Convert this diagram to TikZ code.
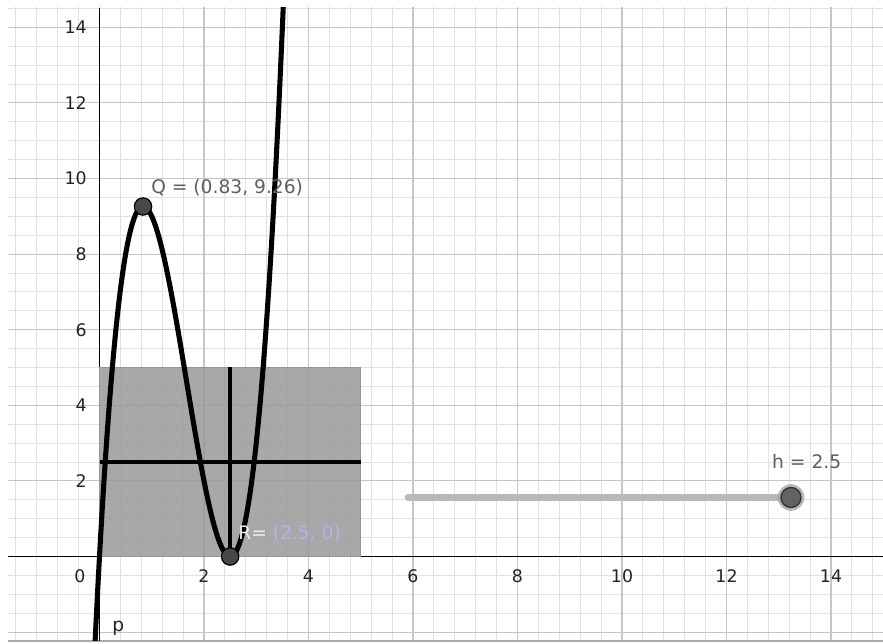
\documentclass[tikz,border=0pt]{standalone}
\usepackage{fontspec}
\setmainfont{DejaVu Sans}
\definecolor{minorc}{RGB}{226,226,226}
\definecolor{majorc}{RGB}{198,198,198}
\definecolor{rectc}{RGB}{150,150,150}
\definecolor{rectedge}{RGB}{150,150,150}
\definecolor{ptfill}{RGB}{72,72,72}
\definecolor{slidec}{RGB}{185,185,185}
\definecolor{haloc}{RGB}{165,165,165}
\definecolor{labelc}{RGB}{95,95,95}
\definecolor{numc}{RGB}{35,35,35}
\definecolor{rlabc}{RGB}{180,180,232}
\definecolor{rrc}{RGB}{238,238,238}
\definecolor{framec}{RGB}{170,170,170}
\begin{document}
\begin{tikzpicture}[x=39.1875pt,y=28.35pt,
  minorgrid/.style={draw=minorc, line width=0.7pt},
  majorgrid/.style={draw=majorc, line width=0.8pt},
  axisline/.style={draw=black, line width=0.9pt},
  numlab/.style={text=numc, font=\fontsize{13}{15}\selectfont, inner sep=0pt},
  ptlab/.style={text=labelc, font=\fontsize{14}{16}\selectfont, inner sep=0pt},
  curvestyle/.style={draw=black, line width=3.8pt, line join=round},
  segstyle/.style={draw=black, line width=3pt},
  ptstyle/.style={circle, fill=ptfill, draw=black, line width=0.9pt, minimum size=13pt, inner sep=0pt},
  knobstyle/.style={circle, fill=ptfill!85!white, draw=black!80, line width=1pt, minimum size=15pt, inner sep=0pt},
  sliderline/.style={draw=slidec, line width=5pt, line cap=round},
  halostyle/.style={fill=haloc, fill opacity=0.8}
]
\useasboundingbox[fill=white] (-1.9043,-2.3148) rectangle (14.9952,14.7222);
% grid
\begin{scope}
  \clip (-1.751,-2.235) rectangle (14.9952,14.511);
  \draw[minorgrid, xstep=0.4, ystep=0.5] (-2,-2.5) grid (15.2,14.8);
  \draw[majorgrid, step=2] (-2,-2.5) grid (15.2,14.8);
\end{scope}
\draw[draw=framec, line width=1.5pt] (-1.751,-2.235) -- (14.9952,-2.235);
% axes
\coordinate (xl) at (-1.751,0);
\coordinate (xr) at (14.9952,0);
\coordinate (yb) at (0,-2.235);
\coordinate (yt) at (0,14.511);
\draw[axisline] (xl) -- (xr);
\draw[axisline] (yb) -- (yt);
% axis numbers
\node[numlab] (x0) at (-0.373,-0.516) {0};
\foreach \v in {2,4,...,14}{
  \node[numlab] (x\v) at (\v,-0.516) {\v};
  \node[numlab, anchor=east] (y\v) at (-0.239,\v) {\v};
}
% rectangle
\fill[rectc, fill opacity=0.82] (0,0) rectangle (5,5);
\draw[rectedge, line width=0.6pt] (0,0) rectangle (5,5);
% segments
\coordinate (hl) at (0,2.5);
\coordinate (hr) at (5,2.5);
\coordinate (vb) at (2.5,0);
\coordinate (vt) at (2.5,5);
\draw[segstyle] (hl) -- (hr);
\draw[segstyle] (vb) -- (vt);
% curve p(x) = 4x(x-2.5)^2
\begin{scope}
  \clip (-1.751,-2.235) rectangle (14.9952,14.511);
  \draw[curvestyle, domain=-0.12:3.6, samples=240, smooth, variable=\t]
    plot ({\t},{4*\t*(\t-2.5)*(\t-2.5)});
\end{scope}
% points
\node[ptstyle] (Q) at (0.8333,9.2593) {};
\node[ptstyle] (R) at (2.5,0) {};
\node[ptlab, anchor=base west] (Qlab) at (0.9856,9.59) {Q = (0.83, 9.26)};
\node[ptlab, anchor=base west] (Rlab) at (2.651,0.4365) {{\color{rrc}R=} {\color{rlabc}(2.5, 0)}};
\node[text=numc, font=\fontsize{14}{16}\selectfont, inner sep=0pt, anchor=base west] (plab) at (0.239,-1.971) {p};
% slider
\coordinate (sstart) at (5.904,1.561);
\coordinate (kpos) at (13.234,1.561);
\draw[sliderline] (sstart) -- (kpos);
\fill[halostyle] (kpos) circle[radius=10pt];
\node[knobstyle] (knob) at (kpos) {};
\node[ptlab, anchor=base west] (hlab) at (12.87,2.315) {h = 2.5};
\end{tikzpicture}
\end{document}
